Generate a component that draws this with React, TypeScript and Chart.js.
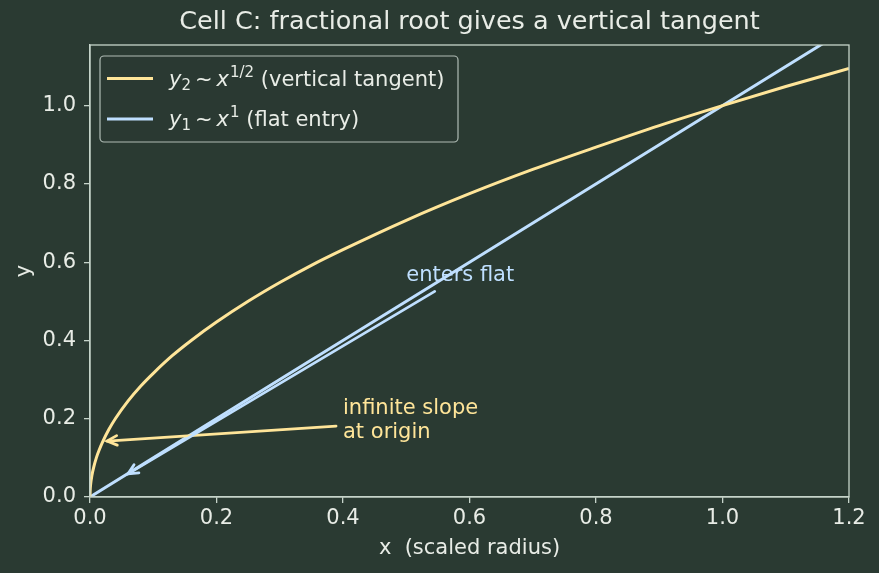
import React, { useEffect, useRef } from "react";
import { Chart, registerables } from "chart.js";
Chart.register(...registerables);

// ---- data ----
const rootX = [0, 0.0002, 0.001, 0.003, 0.006, 0.01, 0.015, 0.02, 0.03, 0.04, 0.06, 0.08, 0.1, 0.13, 0.16, 0.2, 0.25, 0.3, 0.35, 0.4, 0.5, 0.6, 0.7, 0.8, 0.9, 1.0, 1.1, 1.2];
const rootY = [0, 0.014, 0.032, 0.055, 0.077, 0.1, 0.122, 0.141, 0.173, 0.2, 0.245, 0.283, 0.316, 0.361, 0.4, 0.447, 0.5, 0.548, 0.592, 0.632, 0.707, 0.775, 0.837, 0.894, 0.949, 1.0, 1.049, 1.095];
const linX = [0, 0.3, 0.6, 0.9, 1.2];
const linY = [0, 0.3, 0.6, 0.9, 1.2];
const xTicks = [0, 0.2, 0.4, 0.6, 0.8, 1.0, 1.2];
const yTicks = [0, 0.2, 0.4, 0.6, 0.8, 1.0];
const xRange = [0, 1.2];
const yRange = [0, 1.155];

const titleText = "Cell C: fractional root gives a vertical tangent";
const xLabel = "x  (scaled radius)";
const yLabel = "y";

// annotations: text position, arrow tail, arrow tip
const slopeText = ["infinite slope", "at origin"];
const slopeTextPos = [0.4, 0.195];
const slopeTail = [0.389, 0.181];
const slopeTip = [0.027, 0.143];
const flatText = "enters flat";
const flatTextPos = [0.5, 0.566];
const flatTail = [0.545, 0.5255];
const flatTip = [0.06, 0.059];

// ---- style ----
const BG = "#2a3a32";
const YELLOW = "#ffe599";
const BLUE = "#bfdfff";
const TEXT = "#e8ece6";
const SPINE = "#c6d4ca";
const FONT = "'DejaVu Sans', sans-serif";
const FS = 21;

function arrow(ctx: CanvasRenderingContext2D, x1: number, y1: number, x2: number, y2: number, color: string) {
  ctx.save();
  ctx.strokeStyle = color;
  ctx.lineWidth = 2.8;
  ctx.lineCap = "round";
  ctx.beginPath();
  ctx.moveTo(x1, y1);
  ctx.lineTo(x2, y2);
  ctx.stroke();
  const a = Math.atan2(y2 - y1, x2 - x1);
  const L = 11, W = 0.45;
  ctx.beginPath();
  ctx.moveTo(x2 - L * Math.cos(a - W), y2 - L * Math.sin(a - W));
  ctx.lineTo(x2, y2);
  ctx.lineTo(x2 - L * Math.cos(a + W), y2 - L * Math.sin(a + W));
  ctx.stroke();
  ctx.restore();
}

function drawMath(ctx: CanvasRenderingContext2D, x: number, y: number, sub: string, sup: string, rest: string) {
  let cx = x;
  const it = `italic ${FS}px ${FONT}`;
  const rg = `${FS}px ${FONT}`;
  const sm = `15px ${FONT}`;
  ctx.fillStyle = TEXT;
  ctx.textBaseline = "alphabetic";
  ctx.textAlign = "left";
  ctx.font = it; ctx.fillText("y", cx, y); cx += ctx.measureText("y").width;
  ctx.font = sm; ctx.fillText(sub, cx, y + 4); cx += ctx.measureText(sub).width + 4;
  ctx.font = rg; ctx.fillText("~", cx, y); cx += ctx.measureText("~").width + 4;
  ctx.font = it; ctx.fillText("x", cx, y); cx += ctx.measureText("x").width + 1;
  ctx.font = sm; ctx.fillText(sup, cx, y - 9); cx += ctx.measureText(sup).width;
  ctx.font = rg; ctx.fillText(rest, cx, y);
}

const overlay = {
  id: "overlay",
  beforeDraw(chart: any) {
    const ctx = chart.ctx;
    ctx.save();
    ctx.fillStyle = BG;
    ctx.fillRect(0, 0, chart.width, chart.height);
    ctx.restore();
  },
  afterDraw(chart: any) {
    const ctx: CanvasRenderingContext2D = chart.ctx;
    const { left, right, top, bottom } = chart.chartArea;
    const xs = chart.scales.x, ys = chart.scales.y;
    ctx.save();
    // spines
    ctx.strokeStyle = SPINE;
    ctx.lineWidth = 1.3;
    ctx.strokeRect(left, top, right - left, bottom - top);
    // title
    ctx.fillStyle = TEXT;
    ctx.font = `25.5px ${FONT}`;
    ctx.textAlign = "center";
    ctx.textBaseline = "middle";
    ctx.fillText(titleText, (left + right) / 2, 22);
    // axis labels
    ctx.font = `${FS}px ${FONT}`;
    ctx.fillText(xLabel, (left + right) / 2, 549);
    ctx.save();
    ctx.translate(25, (top + bottom) / 2);
    ctx.rotate(-Math.PI / 2);
    ctx.fillText(yLabel, 0, 0);
    ctx.restore();
    // annotations
    arrow(ctx, xs.getPixelForValue(slopeTail[0]), ys.getPixelForValue(slopeTail[1]), xs.getPixelForValue(slopeTip[0]), ys.getPixelForValue(slopeTip[1]), YELLOW);
    arrow(ctx, xs.getPixelForValue(flatTail[0]), ys.getPixelForValue(flatTail[1]), xs.getPixelForValue(flatTip[0]), ys.getPixelForValue(flatTip[1]), BLUE);
    ctx.font = `${FS}px ${FONT}`;
    ctx.textAlign = "left";
    ctx.textBaseline = "middle";
    ctx.fillStyle = YELLOW;
    const sx = xs.getPixelForValue(slopeTextPos[0]);
    const sy = ys.getPixelForValue(slopeTextPos[1]);
    ctx.fillText(slopeText[0], sx, sy - 12);
    ctx.fillText(slopeText[1], sx, sy + 12);
    ctx.fillStyle = BLUE;
    ctx.fillText(flatText, xs.getPixelForValue(flatTextPos[0]), ys.getPixelForValue(flatTextPos[1]));
    // legend
    ctx.beginPath();
    ctx.roundRect(100, 56, 358, 86, 4);
    ctx.fillStyle = "rgba(42,58,50,0.8)";
    ctx.fill();
    ctx.strokeStyle = "rgba(200,212,204,0.85)";
    ctx.lineWidth = 1.2;
    ctx.stroke();
    ctx.lineWidth = 3;
    ctx.strokeStyle = YELLOW;
    ctx.beginPath(); ctx.moveTo(107, 78.5); ctx.lineTo(153, 78.5); ctx.stroke();
    ctx.strokeStyle = BLUE;
    ctx.beginPath(); ctx.moveTo(107, 119); ctx.lineTo(153, 119); ctx.stroke();
    drawMath(ctx, 169, 85.5, "2", "1/2", " (vertical tangent)");
    drawMath(ctx, 169, 126, "1", "1", " (flat entry)");
    ctx.restore();
  },
};

export default function App() {
  const ref = useRef<HTMLCanvasElement>(null);
  useEffect(() => {
    if (!ref.current) return;
    const chart = new Chart(ref.current, {
      type: "scatter",
      data: {
        datasets: [
          {
            label: "y2",
            data: rootX.map((x, i) => ({ x, y: rootY[i] })),
            showLine: true,
            borderColor: YELLOW,
            borderWidth: 3,
            pointRadius: 0,
            cubicInterpolationMode: "monotone",
          },
          {
            label: "y1",
            data: linX.map((x, i) => ({ x, y: linY[i] })),
            showLine: true,
            borderColor: BLUE,
            borderWidth: 3,
            pointRadius: 0,
          },
        ],
      },
      options: {
        animation: false,
        responsive: false,
        layout: { padding: { left: 0, top: 45, right: 30, bottom: 0 } },
        plugins: { legend: { display: false }, title: { display: false }, tooltip: { enabled: false } },
        scales: {
          x: {
            type: "linear",
            min: xRange[0],
            max: xRange[1],
            afterFit: (s: any) => { s.height = 76; },
            afterBuildTicks: (s: any) => { s.ticks = xTicks.map((v) => ({ value: v })); },
            grid: { drawOnChartArea: false, drawTicks: true, tickLength: 6, color: SPINE, lineWidth: 1.3 },
            border: { display: true, color: SPINE, width: 1.3 },
            ticks: { color: TEXT, font: { family: FONT, size: FS }, padding: 3, callback: (v: any) => Number(v).toFixed(1), maxRotation: 0, autoSkip: false },
          },
          y: {
            type: "linear",
            min: yRange[0],
            max: yRange[1],
            afterFit: (s: any) => { s.width = 90; },
            afterBuildTicks: (s: any) => { s.ticks = yTicks.map((v) => ({ value: v })); },
            grid: { drawOnChartArea: false, drawTicks: true, tickLength: 6, color: SPINE, lineWidth: 1.3 },
            border: { display: true, color: SPINE, width: 1.3 },
            ticks: { color: TEXT, font: { family: FONT, size: FS }, padding: 8, callback: (v: any) => Number(v).toFixed(1), autoSkip: false },
          },
        },
      },
      plugins: [overlay],
    } as any);
    return () => chart.destroy();
  }, []);
  return (
    <div style={{ position: "fixed", left: 0, top: 0, width: 879, height: 573 }}>
      <canvas ref={ref} width={879} height={573} />
    </div>
  );
}
